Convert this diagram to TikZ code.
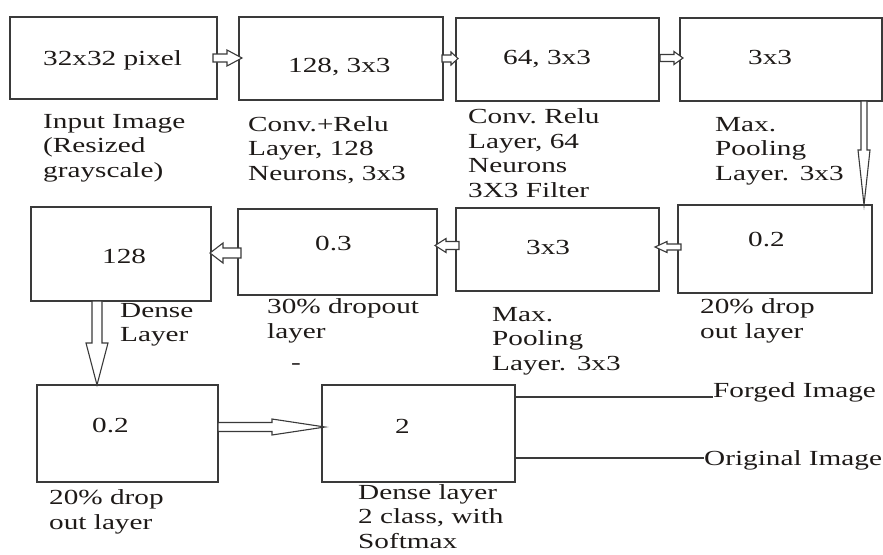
\documentclass[tikz,border=0pt]{standalone}
\usepackage{fontspec}
\setmainfont{Liberation Serif}[FakeStretch=1.36]
\usetikzlibrary{calc}
\definecolor{ink}{HTML}{1E1A18}
\definecolor{edge}{HTML}{3A3A3A}
\tikzset{
  box/.style={draw=edge, line width=1.3pt, inner sep=0pt, outer sep=0pt},
  txt/.style={inner sep=0pt, anchor=base west, font=\fontsize{21.5}{24.5}\selectfont, text=ink, align=left},
  arrowline/.style={draw=edge, line width=1.1pt, fill=white, line join=miter},
  outline/.style={draw=edge, line width=1.2pt}
}
% horizontal block arrow: #1 start, #2 tip, #3 shaft half width, #4 head half width, #5 signed head length
\newcommand{\hblock}[5]{\draw[arrowline] let \p1=#1, \p2=#2 in
  (\x1,\y1+#3) -- ({\x2-(#5)},\y1+#3) -- ({\x2-(#5)},\y1+#4) -- (\x2,\y1)
  -- ({\x2-(#5)},\y1-#4) -- ({\x2-(#5)},\y1-#3) -- (\x1,\y1-#3) -- cycle;}
% downward block arrow
\newcommand{\vblock}[5]{\draw[arrowline] let \p1=#1, \p2=#2 in
  (\x1+#3,\y1) -- (\x1+#3,{\y2+#5}) -- (\x1+#4,{\y2+#5}) -- (\x1,\y2)
  -- (\x1-#4,{\y2+#5}) -- (\x1-#3,{\y2+#5}) -- (\x1-#3,\y1) -- cycle;}
\begin{document}
\begin{tikzpicture}[x=1pt,y=-1pt]
\path[use as bounding box] (0,0) rectangle (883,554);
% row 1 boxes
\node[box, minimum width=207, minimum height=82] (b1) at (113.5,58) {};
\node[box, minimum width=204, minimum height=83] (b2) at (341,58.5) {};
\node[box, minimum width=203, minimum height=83] (b3) at (557.5,59.5) {};
\node[box, minimum width=202, minimum height=83] (b4) at (781,59.5) {};
% row 2 boxes
\node[box, minimum width=180, minimum height=94] (c1) at (121,254) {};
\node[box, minimum width=199, minimum height=86] (c2) at (337.5,252) {};
\node[box, minimum width=203, minimum height=83] (c3) at (557.5,249.5) {};
\node[box, minimum width=194, minimum height=88] (c4) at (775,249) {};
% row 3 boxes
\node[box, minimum width=181, minimum height=97] (d1) at (127.5,433.5) {};
\node[box, minimum width=193, minimum height=97] (d2) at (418.5,433.5) {};
% texts inside boxes
\node[txt] (t1) at (43,65) {32x32 pixel};
\node[txt] (t2) at (288,72) {128, 3x3};
\node[txt] (t3) at (503,64) {64, 3x3};
\node[txt] (t4) at (748,64) {3x3};
\node[txt] (t5) at (102,263) {128};
\node[txt] (t6) at (315,250) {0.3};
\node[txt] (t7) at (526,254) {3x3};
\node[txt] (t8) at (748,246) {0.2};
\node[txt] (t9) at (92,432) {0.2};
\node[txt] (t10) at (395,433) {2};
% labels (anchor = baseline of last line)
\node[txt] (l1) at (43,177) {Input Image\\(Resized\\grayscale)};
\node[txt] (l2) at (248,180) {Conv.+Relu\\Layer, 128\\Neurons, 3x3};
\node[txt] (l3) at (468,197) {Conv.\ Relu\\Layer, 64\\Neurons\\3X3 Filter};
\node[txt] (l4) at (715,180) {Max.\\Pooling\\Layer.\hspace{0.5em}3x3};
\node[txt] (l5) at (120,341.5) {Dense\\Layer};
\node[txt] (l6) at (267,338) {30\% dropout\\layer};
\node[txt] (dash) at (291,369) {-};
\node[txt] (l7) at (492,370) {Max.\\Pooling\\Layer.\hspace{0.5em}3x3};
\node[txt] (l8) at (700,338) {20\% drop\\out layer};
\node[txt] (l9) at (49,529) {20\% drop\\out layer};
\node[txt] (l10) at (358,548) {Dense layer\\2 class, with\\Softmax};
\node[txt] (forged) at (713,397) {Forged Image};
\node[txt] (orig) at (704,465) {Original Image};
% arrows
\hblock{([xshift=-4pt]b1.east)}{([xshift=3pt]b2.west)}{4}{8}{15}
\hblock{([xshift=-1pt]b2.east)}{([xshift=2pt]b3.west)}{3.5}{6.5}{7}
\hblock{([xshift=1pt,yshift=1.5pt]b3.east)}{([xshift=3pt]b4.west)}{3.5}{6.5}{9}
\vblock{([xshift=-18pt]b4.south east)}{([xshift=-8pt]c4.north east)}{3}{6}{55}
\hblock{([xshift=3pt,yshift=2pt]c4.west)}{([xshift=-4pt]c3.east)}{3}{5.5}{-12}
\hblock{([xshift=3pt,yshift=4pt]c3.west)}{([xshift=-2pt]c2.east)}{4}{7}{-11}
\hblock{([xshift=3pt,yshift=-1pt]c2.west)}{([xshift=-1pt]c1.east)}{5}{10}{-13}
\vblock{([xshift=-24pt]c1.south)}{(d1.north)}{5}{11}{42}
\hblock{([yshift=6.5pt]d1.east)}{([xshift=3pt]d2.west)}{4.5}{8}{53}
% output lines
\draw[outline] ([yshift=36.5pt]d2.east) -- ([yshift=36.5pt]d2.east -| forged.west);
\draw[outline] ([yshift=-24.5pt]d2.east) -- ([yshift=-24.5pt]d2.east -| orig.west);
\end{tikzpicture}
\end{document}
